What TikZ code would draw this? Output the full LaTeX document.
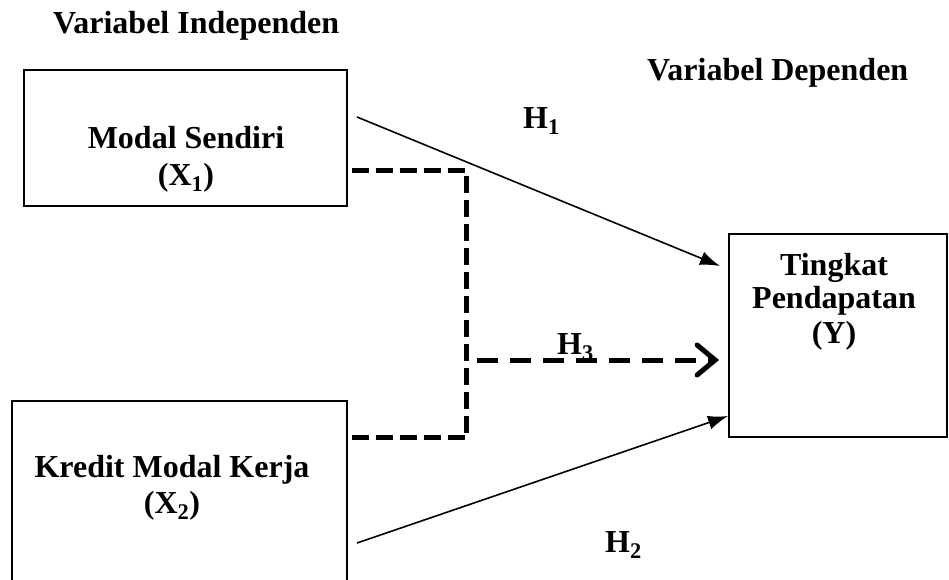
\documentclass[tikz,border=0pt]{standalone}
\usepackage{fontspec}
\setmainfont{Liberation Serif}
\usetikzlibrary{arrows.meta}
\begin{document}
\begin{tikzpicture}[x=1pt,y=-1pt,
  box/.style={draw, line width=1.2pt, inner sep=0pt},
  lbl/.style={font=\fontsize{32}{36}\selectfont\bfseries, inner sep=0pt},
  solidarrow/.style={line width=1.6pt, -{Latex[length=20pt,width=14pt]}},
  dashline/.style={line width=5pt, dash pattern=on 17pt off 7pt},
  dasharrow/.style={line width=5pt, dash pattern=on 21pt off 12pt,
    -{Straight Barb[length=18pt,width=30pt,line cap=round]}}]
\useasboundingbox (0,0) rectangle (949,579);
\clip (0,0) rectangle (949,579);
% boxes
\node[box, minimum width=323pt, minimum height=136pt] (x1) at (185.5,138) {};
\node[box, minimum width=335pt, minimum height=209pt] (x2) at (179.5,505.5) {};
\node[box, minimum width=218pt, minimum height=203pt] (yb) at (838,335.5) {};
% titles
\node[lbl, anchor=base west] (tind) at (53,33) {Variabel Independen};
\node[lbl, anchor=base west] (tdep) at (647,80) {Variabel Dependen};
% box texts
\node[lbl, anchor=base] (x1a) at (186,148) {Modal Sendiri};
\node[lbl, anchor=base] (x1b) at (186,185) {(X\textsubscript{1})};
\node[lbl, anchor=base] (x2a) at (172,477) {Kredit Modal Kerja};
\node[lbl, anchor=base] (x2b) at (172,513) {(X\textsubscript{2})};
\node[lbl, anchor=base] (ya) at (834,275) {Tingkat};
\node[lbl, anchor=base] (yb2) at (834,308) {Pendapatan};
\node[lbl, anchor=base] (yc) at (834,343) {(Y)};
% hypothesis labels
\node[lbl, anchor=base west] (h1) at (523,128) {H\textsubscript{1}};
\node[lbl, anchor=base west] (h3) at (557,354) {H\textsubscript{3}};
\node[lbl, anchor=base west] (h2) at (605,552) {H\textsubscript{2}};
% connector ends
\coordinate (h1s) at (357,117);
\coordinate (h1e) at (720,266);
\coordinate (h2s) at (357,543);
\coordinate (h2e) at (728,416);
\coordinate (d1s) at (352,170);
\coordinate (dc) at (466,437);
\coordinate (d2s) at (352,437);
\coordinate (h3s) at (477,360);
\coordinate (h3e) at (719,360);
% connectors
\draw[solidarrow] (h1s) -- (h1e);
\draw[solidarrow] (h2s) -- (h2e);
\draw[dashline] (d1s) -| (dc);
\draw[dashline] (d2s) -- (dc);
\draw[dasharrow] (h3s) -- (h3e);
\end{tikzpicture}
\end{document}
